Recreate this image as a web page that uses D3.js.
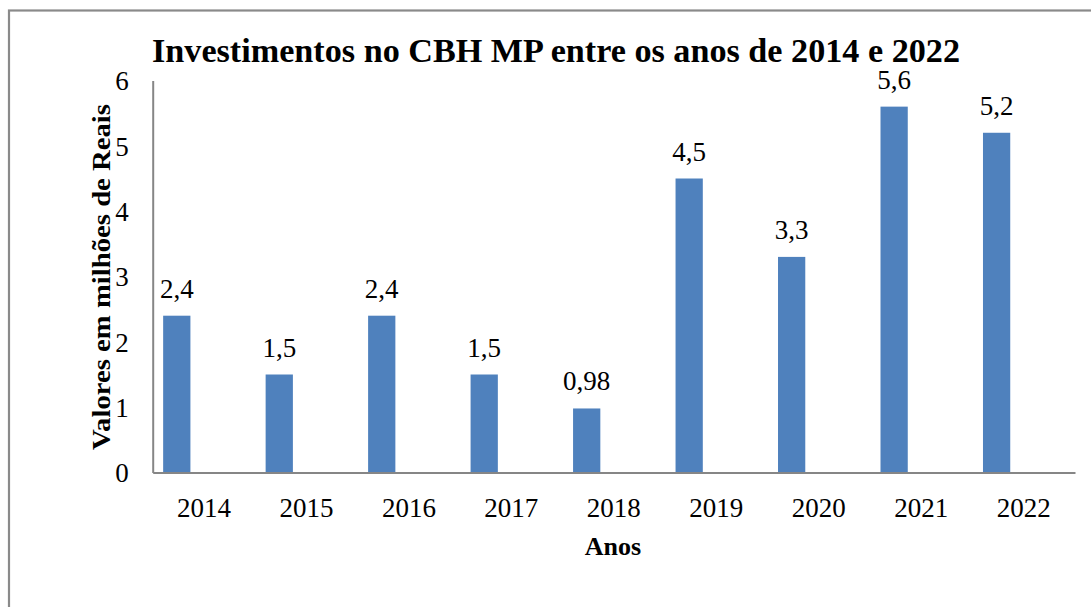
<!DOCTYPE html>
<html>
<head>
<meta charset="utf-8">
<script src="https://cdn.jsdelivr.net/npm/d3@7"></script>
<style>
  html, body { margin: 0; padding: 0; background: #fff; }
  svg { display: block; }
  text { font-family: "Liberation Serif", "Times New Roman", serif; fill: #000; }
</style>
</head>
<body>
<svg id="chart" width="1091" height="607"></svg>
<script>
// Investimentos anuais (milhões de reais)
const years = ["2014", "2015", "2016", "2017", "2018", "2019", "2020", "2021", "2022"];
const values = [2.4, 1.5, 2.4, 1.5, 0.98, 4.5, 3.3, 5.6, 5.2];
const yTicks = [0, 1, 2, 3, 4, 5, 6];

const title = "Investimentos no CBH MP entre os anos de 2014 e 2022";
const xTitle = "Anos";
const yTitle = "Valores em milhões de Reais";

const svg = d3.select("#chart");

// chart frame (continues past the right and bottom edges)
svg.append("rect")
  .attr("x", 9).attr("y", 10.5)
  .attr("width", 1200).attr("height", 800)
  .attr("fill", "none")
  .attr("stroke", "#8a8a8a")
  .attr("stroke-width", 2.2);

const plot = { left: 152.7, right: 1075, top: 80.5, bottom: 472.5 };

const x = d3.scaleBand().domain(years).range([plot.left, plot.right]).padding(0);
const y = d3.scaleLinear().domain([0, 6]).range([plot.bottom, plot.top]);

const barOffset = 0.102, barWidth = 0.266;
const fmt = v => String(v).replace(".", ",");

// bars
svg.append("g").selectAll("rect")
  .data(values)
  .join("rect")
  .attr("x", (d, i) => x(years[i]) + x.bandwidth() * barOffset)
  .attr("width", x.bandwidth() * barWidth)
  .attr("y", d => y(d))
  .attr("height", d => y(0) - y(d))
  .attr("fill", "#4F81BD");

// value labels
svg.append("g").selectAll("text")
  .data(values)
  .join("text")
  .attr("x", (d, i) => x(years[i]) + x.bandwidth() * (barOffset + barWidth / 2))
  .attr("y", d => y(d) - 18)
  .attr("text-anchor", "middle")
  .style("font-size", "27px")
  .text(d => fmt(d));

// y axis
const yAxis = svg.append("g")
  .attr("transform", `translate(${plot.left},0)`)
  .call(d3.axisLeft(y).tickValues(yTicks).tickSize(0).tickPadding(24).tickFormat(d => fmt(d)));
yAxis.select(".domain").attr("stroke", "#868686").attr("stroke-width", 2);
yAxis.selectAll("text")
  .style("font-family", "'Liberation Serif', serif")
  .style("font-size", "27px")
  .attr("fill", "#000")
  .attr("dy", "0.34em");

// x axis
const xAxis = svg.append("g")
  .attr("transform", `translate(0,${plot.bottom})`)
  .call(d3.axisBottom(x).tickSize(0).tickPadding(25));
xAxis.select(".domain").attr("stroke", "#868686").attr("stroke-width", 2);
xAxis.selectAll("text")
  .style("font-family", "'Liberation Serif', serif")
  .style("font-size", "27px")
  .attr("fill", "#000")
  .attr("dy", "0.71em");

// titles
svg.append("text")
  .attr("x", 556).attr("y", 62)
  .attr("text-anchor", "middle")
  .style("font-size", "34px")
  .style("font-weight", "bold")
  .attr("textLength", 808)
  .attr("lengthAdjust", "spacingAndGlyphs")
  .text(title);

svg.append("text")
  .attr("x", 613).attr("y", 555)
  .attr("text-anchor", "middle")
  .style("font-size", "26px")
  .style("font-weight", "bold")
  .text(xTitle);

svg.append("text")
  .attr("transform", "translate(110,277) rotate(-90)")
  .attr("text-anchor", "middle")
  .style("font-size", "26px")
  .style("font-weight", "bold")
  .attr("textLength", 346)
  .attr("lengthAdjust", "spacingAndGlyphs")
  .text(yTitle);
</script>
</body>
</html>
